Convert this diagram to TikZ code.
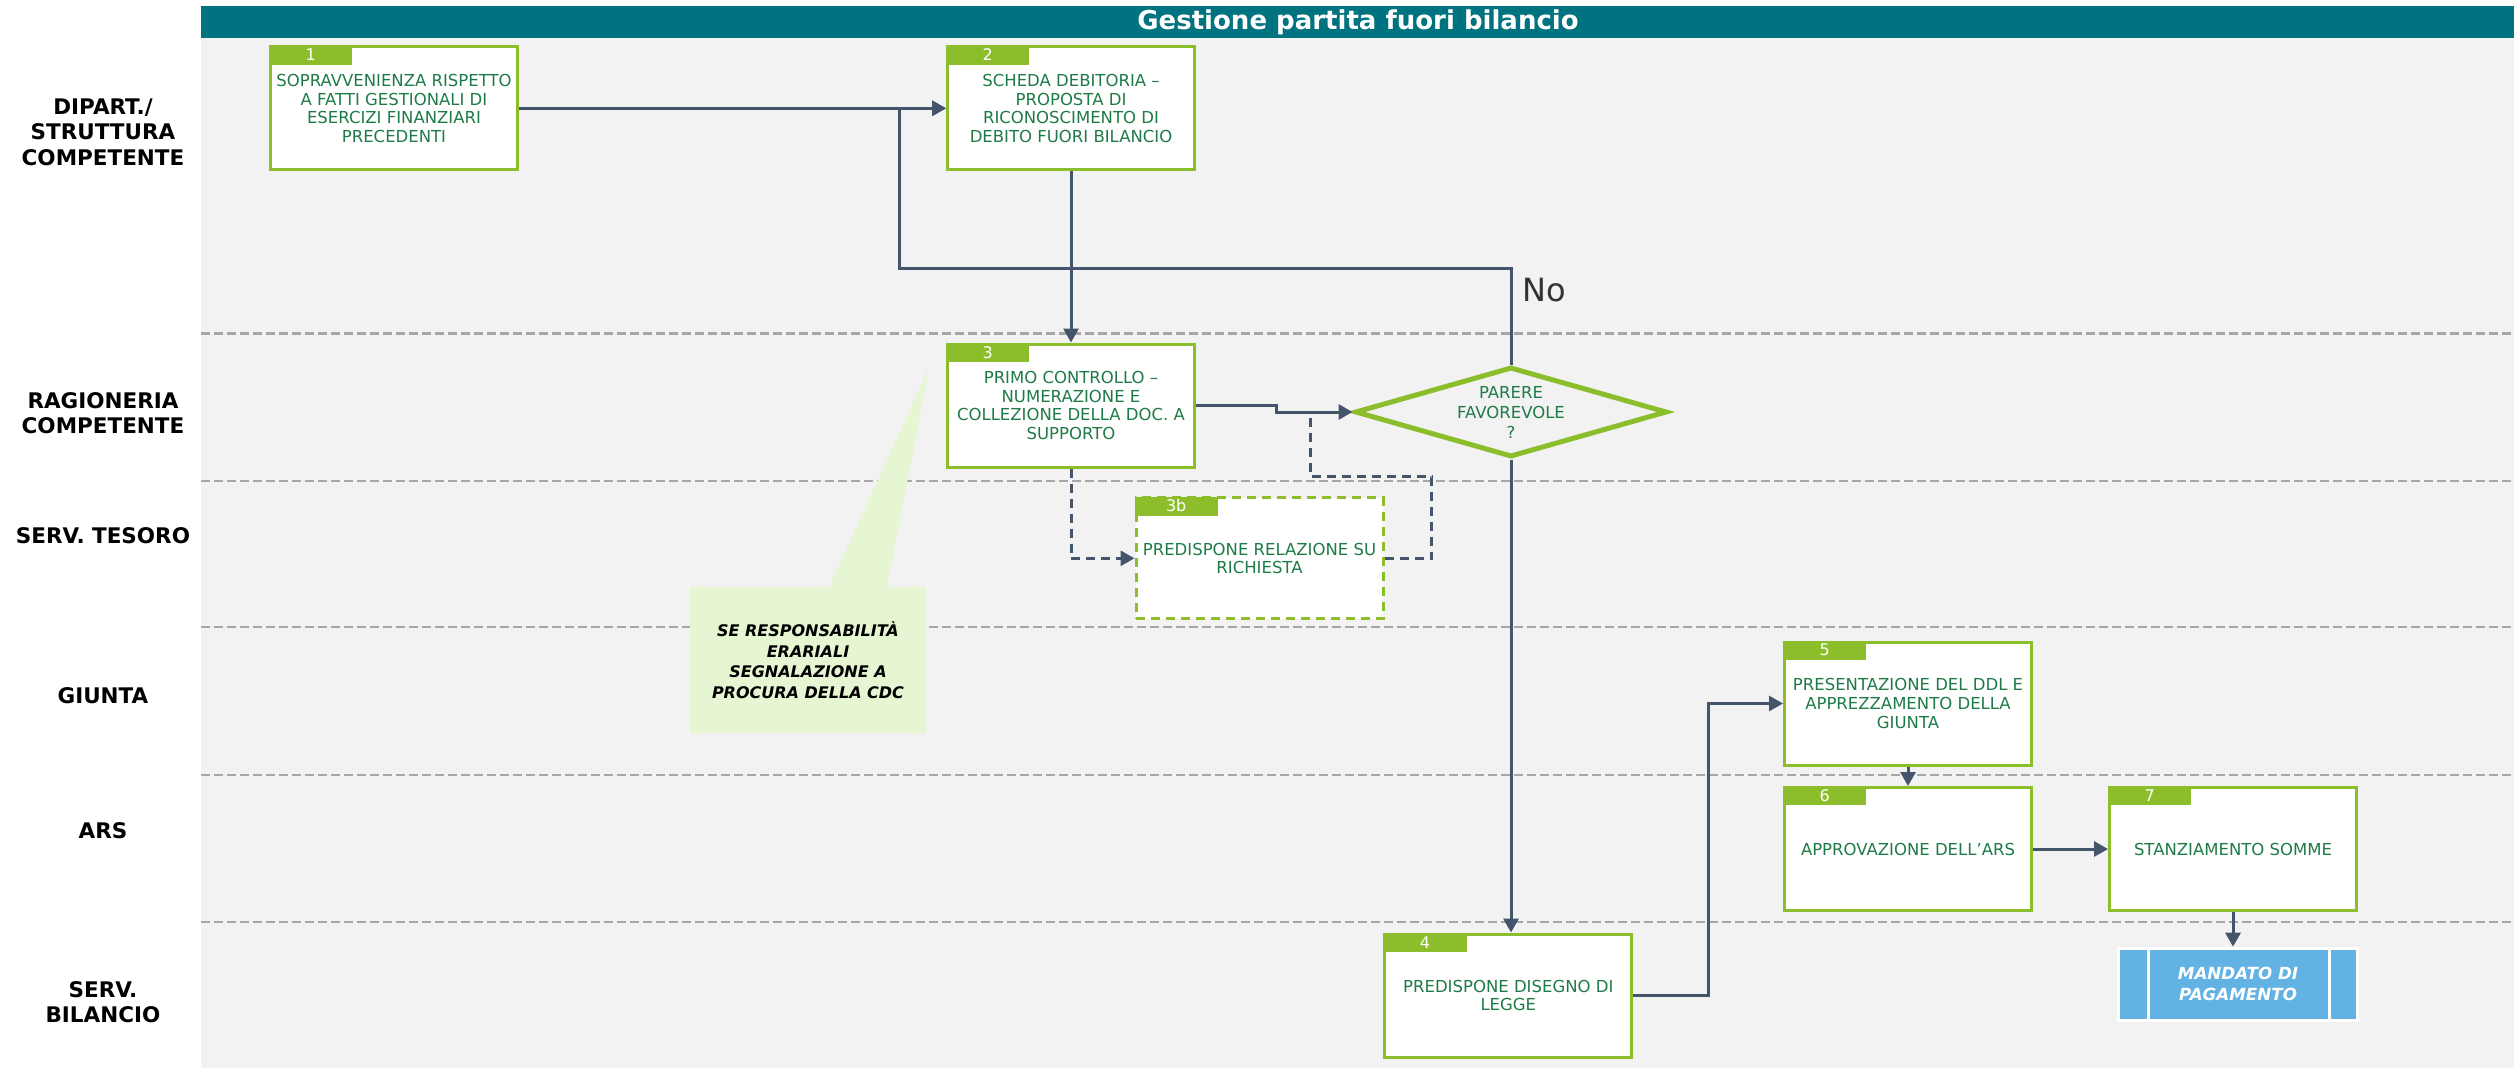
\documentclass[tikz,border=0pt]{standalone}
\usepackage{fontspec}
\setmainfont{DejaVu Sans}
\usetikzlibrary{arrows.meta,shapes.geometric}

\definecolor{barteal}{HTML}{007380}
\definecolor{panel}{HTML}{F2F2F2}
\definecolor{lanegray}{HTML}{A6A6A6}
\definecolor{leaf}{HTML}{8CBE2C}
\definecolor{ink}{HTML}{1E7B47}
\definecolor{slate}{HTML}{44546A}
\definecolor{sky}{HTML}{62B3E4}
\definecolor{note}{HTML}{E6F5D2}

\tikzset{
  stepbox/.style={draw=leaf, line width=3pt, fill=white,
    minimum width=247pt, minimum height=123pt, inner sep=0pt,
    align=center, text=ink, font=\fontsize{16.5}{18.6}\selectfont},
  tabnum/.style={fill=leaf, text=white, minimum width=83pt, minimum height=19pt,
    inner sep=0pt, anchor=north west, font=\fontsize{16}{16}\selectfont},
  flow/.style={draw=slate, line width=3pt, -{Triangle[length=14pt,width=15pt]}},
  dflow/.style={draw=slate, line width=3pt, dash pattern=on 9pt off 6pt},
  laneline/.style={draw=lanegray, line width=2.5pt, dash pattern=on 9pt off 4pt},
  lanelabel/.style={align=center, text=black,
    font=\bfseries\fontsize{21.5}{25.6}\selectfont},
}

\begin{document}
\begin{tikzpicture}[x=1pt, y=-1pt]
  \useasboundingbox (0,0) rectangle (2514,1068);
  \fill[white] (0,0) rectangle (2514,1068);

  % swimlane panel and title bar
  \fill[panel] (201,38) rectangle (2514,1068);
  \fill[barteal] (201,6) rectangle (2514,38);
  \node[text=white, font=\bfseries\fontsize{26}{30}\selectfont] (title) at (1358,22.5) {Gestione partita fuori bilancio};

  % lane separators
  \foreach \ly in {333.3,481,627,775,922}
    \draw[laneline] (201,\ly) -- (2514,\ly);

  % lane names
  \node[lanelabel] (l1) at (103,132) {DIPART./\\STRUTTURA\\COMPETENTE};
  \node[lanelabel] (l2) at (103,413) {RAGIONERIA\\COMPETENTE};
  \node[lanelabel] (l3) at (103,536) {SERV. TESORO};
  \node[lanelabel] (l4) at (103,696) {GIUNTA};
  \node[lanelabel] (l5) at (103,831) {ARS};
  \node[lanelabel] (l6) at (103,1002) {SERV.\\BILANCIO};

  % callout
  \fill[note] (690,587) -- (829,587) -- (929,368) -- (887,587) -- (926,587)
    -- (926,733) -- (690,733) -- cycle;
  \node[align=center, text=black, font=\bfseries\itshape\fontsize{16}{20.5}\selectfont] (cdc) at (808,660)
    {SE RESPONSABILITÀ\\ERARIALI\\SEGNALAZIONE A\\PROCURA DELLA CDC};

  % process steps
  \node[stepbox] (b1) at (394,108.3) {SOPRAVVENIENZA RISPETTO\\A FATTI GESTIONALI DI\\ESERCIZI FINANZIARI\\PRECEDENTI};
  \node[stepbox] (b2) at (1071,108.3) {SCHEDA DEBITORIA –\\PROPOSTA DI\\RICONOSCIMENTO DI\\DEBITO FUORI BILANCIO};
  \node[stepbox] (b3) at (1071,405.5) {PRIMO CONTROLLO –\\NUMERAZIONE E\\COLLEZIONE DELLA DOC. A\\SUPPORTO};
  \node[stepbox, dash pattern=on 9pt off 6pt, minimum height=121pt] (b3b) at (1259.5,558.3) {PREDISPONE RELAZIONE SU\\RICHIESTA};
  \node[stepbox] (b4) at (1508.3,995.5) {PREDISPONE DISEGNO DI\\LEGGE};
  \node[stepbox] (b5) at (1908,703.5) {PRESENTAZIONE DEL DDL E\\APPREZZAMENTO DELLA\\GIUNTA};
  \node[stepbox] (b6) at (1908,849) {APPROVAZIONE DELL’ARS};
  \node[stepbox] (b7) at (2233,849) {STANZIAMENTO SOMME};

  \node[tabnum] (t1) at (b1.north west) {1};
  \node[tabnum] (t2) at (b2.north west) {2};
  \node[tabnum] (t3) at (b3.north west) {3};
  \node[tabnum] (t3b) at (b3b.north west) {3b};
  \node[tabnum] (t4) at (b4.north west) {4};
  \node[tabnum] (t5) at (b5.north west) {5};
  \node[tabnum] (t6) at (b6.north west) {6};
  \node[tabnum] (t7) at (b7.north west) {7};

  % decision
  \node[diamond, draw=leaf, line width=5pt, fill=panel, aspect=3.4,
    minimum width=312pt, minimum height=90pt, inner sep=0pt] (d) at (1511,412) {};
  \node[align=center, text=ink, font=\fontsize{16.5}{20}\selectfont] (dtext) at (d.center) {PARERE\\FAVOREVOLE\\?};
  \node[anchor=west, text=black!80, font=\fontsize{32}{32}\selectfont] (no) at (1519,290) {No};

  % payment document
  \node[fill=sky, draw=white, line width=3pt, minimum width=239pt, minimum height=72pt,
    inner sep=0pt, align=center, text=white,
    font=\bfseries\itshape\fontsize{16.7}{21}\selectfont] (m) at (2238,984.2) {MANDATO DI\\PAGAMENTO};
  \draw[white, line width=3pt] ([xshift=31pt]m.north west) -- ([xshift=31pt]m.south west);
  \draw[white, line width=3pt] ([xshift=-30pt]m.north east) -- ([xshift=-30pt]m.south east);

  % connectors
  \coordinate (noturn) at (899,268.7);
  \coordinate (kink) at (1276,412);
  \coordinate (back1) at (1431.7,476.7);
  \coordinate (back2) at (1310,416);

  \draw[flow] (b1.east) -- (b2.west);
  \draw[flow] (d.north) |- (noturn) |- (b2.west);
  \draw[flow] (b2.south) -- (b3.north);
  \draw[flow] (b3.east) -| (kink) -- (d.west);
  \draw[dflow, -{Triangle[length=14pt,width=15pt]}] (b3.south) |- (b3b.west);
  \draw[dflow] (b3b.east) -| (back1) -| (back2);
  \draw[flow] (d.south) -- (d.south |- b4.north);
  \draw[flow] (b4.east) -- ++(75,0) |- (b5.west);
  \draw[flow] (b5.south) -- (b6.north);
  \draw[flow] (b6.east) -- (b7.west);
  \draw[flow] (b7.south) -- (b7.south |- m.north);
\end{tikzpicture}
\end{document}
